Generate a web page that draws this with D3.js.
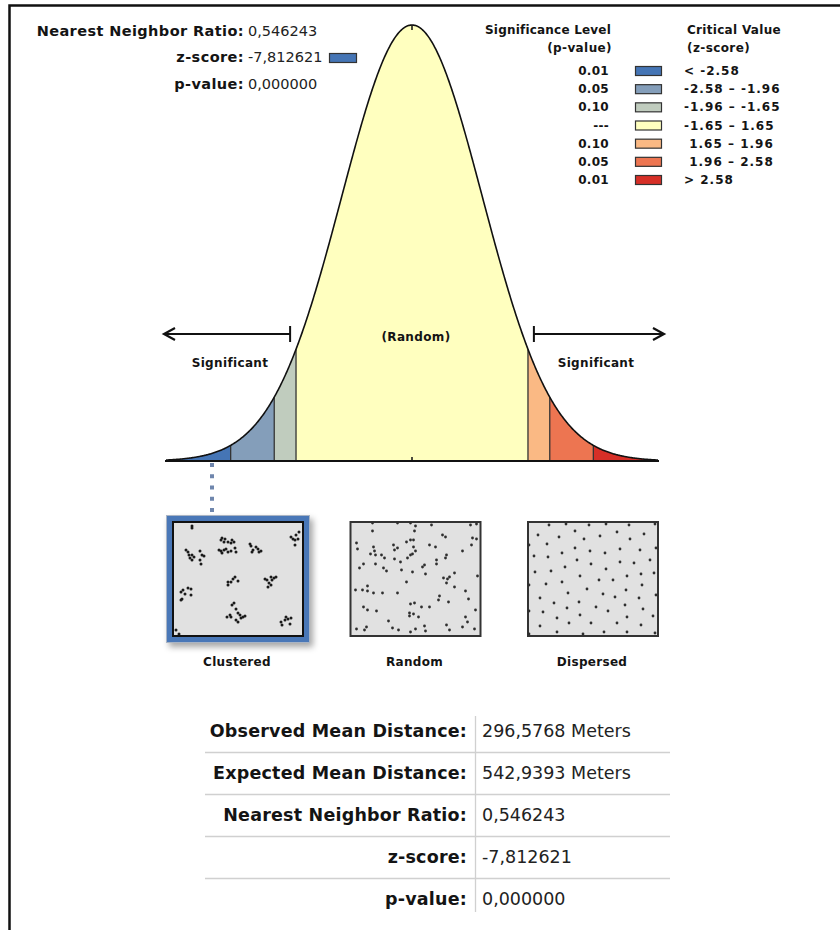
<!DOCTYPE html>
<html>
<head>
<meta charset="utf-8">
<script src="https://cdn.jsdelivr.net/npm/d3@7"></script>
<style>
  body { margin: 0; background: #fff; }
  svg text { font-family: "DejaVu Sans", Verdana, sans-serif; fill: #141414; }
  .b { font-weight: bold; }
</style>
</head>
<body>
<div id="chart"></div>
<script>
// ---- data ----
const summaryLabels = ["Nearest Neighbor Ratio:", "z-score:", "p-value:"];
const summaryValues = ["0,546243", "-7,812621", "0,000000"];

const pLevels = ["0.01", "0.05", "0.10", "---", "0.10", "0.05", "0.01"];
const zRanges = ["< -2.58", "-2.58 \u2013 -1.96", "-1.96 \u2013 -1.65", "-1.65 \u2013 1.65", "\u00a01.65 \u2013 1.96", "\u00a01.96 \u2013 2.58", "> 2.58"];
const bandColors = ["#4575b5", "#849eba", "#c0ccbe", "#ffffbf", "#fab984", "#ed7551", "#d62f27"];
const criticalZ = [-2.58, -1.96, -1.65, 1.65, 1.96, 2.58];
const zExtent = [-3.5, 3.5];

const tableLabels = ["Observed Mean Distance:", "Expected Mean Distance:", "Nearest Neighbor Ratio:", "z-score:", "p-value:"];
const tableValues = ["296,5768 Meters", "542,9393 Meters", "0,546243", "-7,812621", "0,000000"];

const patternNames = ["Clustered", "Random", "Dispersed"];
// point patterns, in a 130 x 114 map extent
const clusteredPts = [
  [19,4],[19,6],
  [48,18],[49,16],[52,17],[51,20],[55,20],[59,18],[58,21],[61,20],[46,28],[48,29],[51,28],[53,27],[55,30],[58,29],[62,26],[63,30],[49,31],
  [77,22],[78,24],[83,25],[85,27],[88,29],[80,28],[79,30],[86,30],
  [118,15],[120,17],[122,18],[123,13],[126,10],[125,17],[122,23],
  [13,28],[15,30],[16,33],[17,36],[19,38],[21,35],[19,33],[27,29],[29,33],[31,34],[27,38],[28,42],
  [8,70],[10,68],[12,72],[15,66],[18,67],[18,73],[9,77],[8,78],
  [55,60],[55,63],[58,60],[60,57],[62,55],[65,59],
  [92,57],[94,58],[96,61],[98,55],[99,58],[101,56],[103,55],[95,65],[98,63],
  [59,83],[61,81],[63,87],[65,91],[67,93],[68,96],[70,95],[72,94],[57,93],[54,95],[58,95],[63,98],[65,100],
  [108,100],[109,103],[112,98],[113,95],[115,97],[117,102],[118,96],
  [3,108],[6,112]
];
const randomPts = [
  [22,1],[47,1],[60,1],[65,4],[81,3],[120,3],[126,2],[22,9],[64,9],[92,13],[95,15],[122,16],[126,17],
  [6,21],[7,27],[23,25],[24,29],[43,23],[47,26],[44,28],[56,20],[60,18],[63,18],[63,25],[65,29],[79,23],[85,25],[121,23],
  [20,32],[25,33],[31,33],[34,36],[44,37],[50,40],[57,36],[60,33],[62,32],[96,33],[95,36],[86,38],[112,29],
  [13,42],[9,46],[25,42],[33,46],[36,49],[51,48],[62,50],[72,45],[74,43],[75,52],[86,42],[104,51],[127,54],
  [93,56],[97,57],[99,55],[96,61],[56,60],
  [5,68],[12,68],[17,64],[17,69],[23,71],[32,71],[47,71],[104,65],[115,69],[89,74],[88,78],[118,77],[98,80],
  [13,85],[17,88],[26,89],[60,82],[64,81],[71,85],[79,85],[125,88],
  [59,91],[59,94],[63,92],[68,95],[115,95],[117,100],
  [38,99],[96,103],[99,108],[112,105],[74,104],[75,109],[65,107],[60,110],[48,108],[42,106],[16,105],[14,108],[6,107],[124,107]
];
const dispersedPts = [
  [21,3],[38,2],[61,3],[78,2],[101,3],[127,2],
  [10,13],[31,15],[47,9],[56,17],[72,14],[89,10],[102,17],[116,12],
  [1,23],[19,22],[47,26],[62,29],[77,31],[92,27],[112,28],[128,26],
  [6,34],[20,35],[34,31],[49,38],[63,42],[78,47],[92,40],[106,41],[122,38],
  [7,50],[23,49],[37,45],[52,54],[71,58],[85,58],[99,54],[113,52],[126,51],
  [1,63],[18,62],[34,60],[40,71],[59,67],[75,72],[87,75],[98,68],[114,63],[128,73],
  [12,76],[26,81],[51,80],[68,85],[80,89],[97,83],[111,76],[115,87],
  [1,89],[15,90],[29,96],[39,86],[52,93],[63,101],[89,101],[99,95],[113,103],[125,94],
  [12,104],[41,101],[1,112],[29,110],[55,112],[76,110],[99,110],[127,111]
];
const patterns = [clusteredPts, randomPts, dispersedPts];

// ---- svg ----
const width = 840, height = 930;
const svg = d3.select("#chart").append("svg")
  .attr("width", width).attr("height", height);

const defs = svg.append("defs");
const shadow = defs.append("filter").attr("id", "shadow")
  .attr("x", "-20%").attr("y", "-20%").attr("width", "150%").attr("height", "150%");
shadow.append("feDropShadow").attr("dx", 3).attr("dy", 4).attr("stdDeviation", 3)
  .attr("flood-color", "#000").attr("flood-opacity", 0.35);

// page frame (top + left)
svg.append("path").attr("d", "M9.5,930V5.5H840")
  .attr("fill", "none").attr("stroke", "#111").attr("stroke-width", 2.5);

// small helper for centred text
function label(g, txt, xx, yy, size, opts = {}) {
  return g.append("text")
    .attr("class", opts.bold === false ? null : "b")
    .attr("x", xx).attr("y", yy)
    .attr("text-anchor", opts.anchor || "start")
    .attr("dominant-baseline", "central")
    .style("font-size", size + "px")
    .style("letter-spacing", (opts.ls || 0) + "px")
    .style("white-space", "pre")
    .style("fill", opts.fill || null)
    .text(txt);
}

// ---- summary, top left ----
const sumG = svg.append("g");
summaryLabels.forEach((lab, i) => {
  const yy = 30.5 + i * 26.5;
  label(sumG, lab, 244, yy, 14.5, {anchor: "end", ls: 0.4});
  label(sumG, summaryValues[i], 248, yy, 14.5, {bold: false, fill: "#222"});
});
sumG.append("rect").attr("x", 329.5).attr("y", 53.5).attr("width", 27).attr("height", 9)
  .attr("fill", bandColors[0]).attr("stroke", "#333").attr("stroke-width", 1.2);

// ---- bell curve ----
const x = d3.scaleLinear().domain(zExtent).range([166, 658]);
const pdf = z => Math.exp(-z * z / 2) / Math.sqrt(2 * Math.PI);
const y = d3.scaleLinear().domain([0, pdf(0)]).range([461, 25]);

const edges = [zExtent[0], ...criticalZ, zExtent[1]];
const area = d3.area().x(d => x(d)).y0(y(0)).y1(d => y(pdf(d)));
const line = d3.line().x(d => x(d)).y(d => y(pdf(d)));

const curveG = svg.append("g");
bandColors.forEach((c, i) => {
  const a = edges[i], b = edges[i + 1];
  const zs = d3.range(a, b, 0.01).concat([b]);
  curveG.append("path").attr("d", area(zs)).attr("fill", c);
});
curveG.selectAll("line.div").data(criticalZ).join("line")
  .attr("x1", d => x(d)).attr("x2", d => x(d))
  .attr("y1", y(0)).attr("y2", d => y(pdf(d)))
  .attr("stroke", "#333").attr("stroke-width", 1.3);
curveG.append("path")
  .attr("d", line(d3.range(zExtent[0], zExtent[1], 0.01).concat([zExtent[1]])))
  .attr("fill", "none").attr("stroke", "#111").attr("stroke-width", 1.6);
curveG.append("line").attr("x1", 165).attr("x2", 659).attr("y1", y(0)).attr("y2", y(0))
  .attr("stroke", "#111").attr("stroke-width", 2.2);
curveG.append("line").attr("x1", x(0)).attr("x2", x(0)).attr("y1", y(0) - 4).attr("y2", y(0))
  .attr("stroke", "#111").attr("stroke-width", 1.5);
curveG.append("line").attr("x1", x(0)).attr("x2", x(0)).attr("y1", y(pdf(0))).attr("y2", y(pdf(0)) + 5)
  .attr("stroke", "#111").attr("stroke-width", 1.5);

// significance arrows
const arrowY = 334;
function arrow(xBar, xTip) {
  const dir = Math.sign(xTip - xBar);
  svg.append("line").attr("x1", xBar).attr("x2", xTip).attr("y1", arrowY).attr("y2", arrowY)
    .attr("stroke", "#111").attr("stroke-width", 1.8);
  svg.append("line").attr("x1", xBar).attr("x2", xBar).attr("y1", arrowY - 8).attr("y2", arrowY + 8)
    .attr("stroke", "#111").attr("stroke-width", 2);
  svg.append("path")
    .attr("d", `M${xTip - dir * 11},${arrowY - 6}L${xTip},${arrowY}L${xTip - dir * 11},${arrowY + 6}`)
    .attr("fill", "none").attr("stroke", "#111").attr("stroke-width", 2.2);
}
arrow(x(-1.72) - 1, 164);
arrow(x(1.72) + 1, 664);

label(svg, "Significant", 230, 363, 12, {anchor: "middle", ls: 0.35});
label(svg, "Significant", 596, 363, 12, {anchor: "middle", ls: 0.35});
label(svg, "(Random)", 416, 337, 12, {anchor: "middle", ls: 0.35});

// ---- legend ----
const legG = svg.append("g");
label(legG, "Significance Level", 611, 30, 12, {anchor: "end", ls: 0.2});
label(legG, "(p-value)", 612, 48, 12, {anchor: "end", ls: 0.4});
label(legG, "Critical Value", 687, 30, 12, {ls: 0.3});
label(legG, "(z-score)", 687, 48, 12, {ls: 0.4});

const legY = d3.scalePoint().domain(d3.range(pLevels.length)).range([71, 180]);
pLevels.forEach((p, i) => {
  const yy = legY(i);
  label(legG, p, 609, yy, 12, {anchor: "end", ls: 0.3});
  legG.append("rect").attr("x", 635.5).attr("y", yy - 4.5).attr("width", 26).attr("height", 9)
    .attr("fill", bandColors[i]).attr("stroke", "#333").attr("stroke-width", 1.2);
  label(legG, zRanges[i], 684, yy, 12, {ls: 1});
});

// ---- connector from the z-score to the clustered panel ----
svg.append("line").attr("x1", 212).attr("x2", 212).attr("y1", 463).attr("y2", 513)
  .attr("stroke", "#6f86ad").attr("stroke-width", 4).attr("stroke-dasharray", "4,7.25");

// ---- point pattern panels ----
const panelX = d3.scalePoint().domain(patternNames).range([173, 528]);
const panelY = 522, panelW = 130, panelH = 114;

// highlight frame for clustered
svg.append("rect").attr("x", 166.5).attr("y", 515.5).attr("width", 143).attr("height", 127)
  .attr("fill", "#4a77b7").attr("stroke", "#a9b4c4").attr("stroke-width", 1)
  .attr("filter", "url(#shadow)");

patternNames.forEach((name, i) => {
  const x0 = panelX(name);
  const px = d3.scaleLinear().domain([0, 130]).range([x0, x0 + panelW]);
  const py = d3.scaleLinear().domain([0, 114]).range([panelY, panelY + panelH]);
  const g = svg.append("g");
  g.append("rect").attr("x", x0).attr("y", panelY).attr("width", panelW).attr("height", panelH)
    .attr("fill", "#e1e1e1").attr("stroke", i === 0 ? "#111" : "#333").attr("stroke-width", 2);
  g.selectAll("circle").data(patterns[i]).join("circle")
    .attr("cx", d => px(d[0])).attr("cy", d => py(d[1]))
    .attr("r", i === 0 ? 1.5 : 1.4).attr("fill", i === 0 ? "#1a1a1a" : "#2e2e2e");
  label(svg, name, x0 + panelW / 2 - 1, 662, 12, {anchor: "middle", ls: 0.3});
});

// ---- results table ----
const tabY = d3.scalePoint().domain(d3.range(tableLabels.length)).range([731, 899]);
const tabG = svg.append("g");
tabG.selectAll("line.h").data(d3.range(1, tableLabels.length)).join("line")
  .attr("x1", 205).attr("x2", 670)
  .attr("y1", d => (tabY(d) + tabY(d - 1)) / 2 + 0.5).attr("y2", d => (tabY(d) + tabY(d - 1)) / 2 + 0.5)
  .attr("stroke", "#d0d0d0").attr("stroke-width", 1.3);
tabG.append("line").attr("x1", 475.5).attr("x2", 475.5).attr("y1", 716).attr("y2", 912)
  .attr("stroke", "#d0d0d0").attr("stroke-width", 1.3);
tableLabels.forEach((lab, i) => {
  label(tabG, lab, 467, tabY(i), 17.5, {anchor: "end", ls: 0.2});
  label(tabG, tableValues[i], 482, tabY(i), 17.5, {bold: false, fill: "#222"});
});
</script>
</body>
</html>
